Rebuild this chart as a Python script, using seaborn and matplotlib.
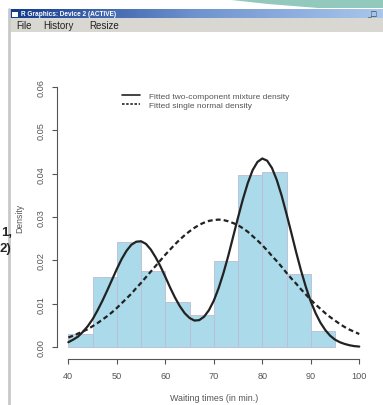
import numpy as np
import seaborn as sns
import matplotlib.pyplot as plt
from matplotlib.patches import Rectangle, Polygon
from matplotlib.lines import Line2D

# histogram of waiting times, density per 5-minute bin
bin_edges = [40, 45, 50, 55, 60, 65, 70, 75, 80, 85, 90, 95]
bin_density = [0.0029, 0.0162, 0.0243, 0.0176, 0.0103, 0.0074,
               0.0199, 0.0397, 0.0404, 0.0169, 0.0037]

# points, one per minute
curve_x = [40, 41, 42, 43, 44, 45, 46, 47, 48, 49, 50, 51, 52, 53, 54, 55,
           56, 57, 58, 59, 60, 61, 62, 63, 64, 65, 66, 67, 68, 69, 70, 71,
           72, 73, 74, 75, 76, 77, 78, 79, 80, 81, 82, 83, 84, 85, 86, 87,
           88, 89, 90, 91, 92, 93, 94, 95, 96, 97, 98, 99, 100]
mixture_density = [0.0011, 0.0017, 0.0024, 0.0035, 0.0048, 0.0064, 0.0084,
                   0.0106, 0.0130, 0.0155, 0.0180, 0.0203, 0.0222, 0.0236,
                   0.0243, 0.0244, 0.0238, 0.0225, 0.0207, 0.0186, 0.0162,
                   0.0137, 0.0114, 0.0094, 0.0078, 0.0067, 0.0061, 0.0062,
                   0.0070, 0.0085, 0.0107, 0.0136, 0.0171, 0.0211, 0.0255,
                   0.0299, 0.0341, 0.0378, 0.0408, 0.0427, 0.0435, 0.0430,
                   0.0413, 0.0385, 0.0349, 0.0307, 0.0263, 0.0218, 0.0176,
                   0.0138, 0.0105, 0.0078, 0.0056, 0.0039, 0.0026, 0.0017,
                   0.0011, 0.0007, 0.0004, 0.0002, 0.0001]
normal_density = [0.0022, 0.0026, 0.0031, 0.0036, 0.0041, 0.0048, 0.0055,
                  0.0063, 0.0071, 0.0080, 0.0090, 0.0101, 0.0112, 0.0123,
                  0.0136, 0.0148, 0.0161, 0.0174, 0.0187, 0.0200, 0.0213,
                  0.0225, 0.0237, 0.0248, 0.0258, 0.0267, 0.0275, 0.0282,
                  0.0287, 0.0291, 0.0293, 0.0294, 0.0293, 0.0290, 0.0286,
                  0.0281, 0.0274, 0.0266, 0.0256, 0.0246, 0.0235, 0.0223,
                  0.0210, 0.0198, 0.0185, 0.0171, 0.0158, 0.0146, 0.0133,
                  0.0121, 0.0109, 0.0098, 0.0088, 0.0078, 0.0069, 0.0061,
                  0.0053, 0.0046, 0.0040, 0.0035, 0.0030]

x_ticks = [40, 50, 60, 70, 80, 90, 100]
y_ticks = [0.00, 0.01, 0.02, 0.03, 0.04, 0.05, 0.06]
y_tick_labels = ["0.00", "0.01", "0.02", "0.03", "0.04", "0.05", "0.06"]
legend_labels = ["Fitted two-component mixture density",
                 "Fitted single normal density"]

sns.set_theme(style="white")
plt.rcParams["font.family"] = ["Liberation Sans", "DejaVu Sans"]

W, H = 383, 406
fig = plt.figure(figsize=(W / 100, H / 100), dpi=100)
fig.patch.set_facecolor("white")


def px(x, y):
    return x / W, 1 - y / H


# --- window chrome around the R device ---
fig.add_artist(Polygon([px(222, 0), px(383, 0), px(383, 9), px(318, 9), px(268, 5)],
                       closed=True, transform=fig.transFigure,
                       facecolor="#93c8bd", edgecolor="none"))
title_ax = fig.add_axes([10 / W, 1 - 19 / H, 373 / W, 9 / H])
grad = np.linspace(0, 1, 256).reshape(1, -1)
title_ax.imshow(grad, aspect="auto",
                cmap=sns.blend_palette(["#123a8c", "#6f93cf", "#a9c7ec"], as_cmap=True))
title_ax.set_axis_off()
fig.add_artist(Rectangle(px(12, 17.5), 6 / W, 5 / H, transform=fig.transFigure,
                         facecolor="white", edgecolor="none"))
fig.text(*px(21, 14.5), "R Graphics: Device 2 (ACTIVE)", color="white",
         fontsize=4.7, fontweight="bold", va="center", ha="left")
fig.text(*px(377, 14.5), "_\u25a1", color="#333", fontsize=5, va="center",
         ha="right", family="DejaVu Sans")
fig.add_artist(Rectangle(px(10, 33), 373 / W, 14 / H, transform=fig.transFigure,
                         facecolor="#d9d7d1", edgecolor="none"))
for label, xpos in [("File", 16), ("History", 43), ("Resize", 89)]:
    fig.text(*px(xpos, 26), label, color="#222", fontsize=7, va="center", ha="left")
fig.add_artist(Line2D([9 / W, 9 / W], [0, 1 - 10 / H], transform=fig.transFigure,
                      color="#c9c9c9", lw=2))
fig.text(*px(1, 233), "1,", fontsize=9.5, fontweight="bold", va="center", ha="left")
fig.text(*px(0, 249), "2)", fontsize=9.5, fontweight="bold", va="center", ha="left")

# --- plot region (R style: 4% padding, detached axes) ---
ax = fig.add_axes([56.7 / W, 1 - 358.4 / H, 314.2 / W, 280.8 / H])
ax.set_facecolor("white")

bin_centers = [(a + b) / 2 for a, b in zip(bin_edges[:-1], bin_edges[1:])]
sns.histplot(x=bin_centers, weights=bin_density, bins=bin_edges, ax=ax,
             color="#abdbea", edgecolor="#bcbcd2", linewidth=0.6, alpha=1)

sns.lineplot(x=curve_x, y=mixture_density, ax=ax, color="#222222", lw=1.6)
sns.lineplot(x=curve_x, y=normal_density, ax=ax, color="#222222", lw=1.6,
             linestyle=(0, (2.2, 1.4)))

ax.set_xlim(37.6, 102.4)
ax.set_ylim(-0.0024, 0.0624)

for side in ["top", "right"]:
    ax.spines[side].set_visible(False)
for side in ["left", "bottom"]:
    ax.spines[side].set_color("#555555")
    ax.spines[side].set_linewidth(0.8)
ax.spines["left"].set_bounds(0, 0.06)
ax.spines["bottom"].set_bounds(40, 100)
ax.spines["bottom"].set_position(("outward", 1))

ax.set_xticks(x_ticks)
ax.set_xticklabels([str(t) for t in x_ticks])
ax.set_yticks(y_ticks)
ax.set_yticklabels(y_tick_labels, rotation=90, va="center")
ax.tick_params(axis="both", direction="out", length=3.6, width=0.8,
               color="#555555", labelcolor="#555555", labelsize=6.6,
               left=True, bottom=True)
ax.tick_params(axis="x", pad=5.5)
ax.tick_params(axis="y", pad=4.5)

ax.set_xlabel("Waiting times (in min.)", fontsize=6.4, color="#555555")
ax.set_ylabel("Density", fontsize=6.2, color="#555555")
ax.xaxis.set_label_coords(0.5, (358.4 - 394) / 280.8)
ax.yaxis.set_label_coords((24 - 56.7) / 314.2, 0.5)

handles = [Line2D([], [], color="#222222", lw=1.2),
           Line2D([], [], color="#222222", lw=1.2, linestyle=(0, (1.5, 1)))]
ax.legend(handles, legend_labels, loc="upper left",
          bbox_to_anchor=px(122, 93), bbox_transform=fig.transFigure,
          frameon=False, fontsize=6.0, labelcolor="#555555", borderpad=0,
          borderaxespad=0, handlelength=2.1, handletextpad=1.1, labelspacing=0.1)

fig.savefig("out.png", dpi=100, facecolor=fig.get_facecolor())
